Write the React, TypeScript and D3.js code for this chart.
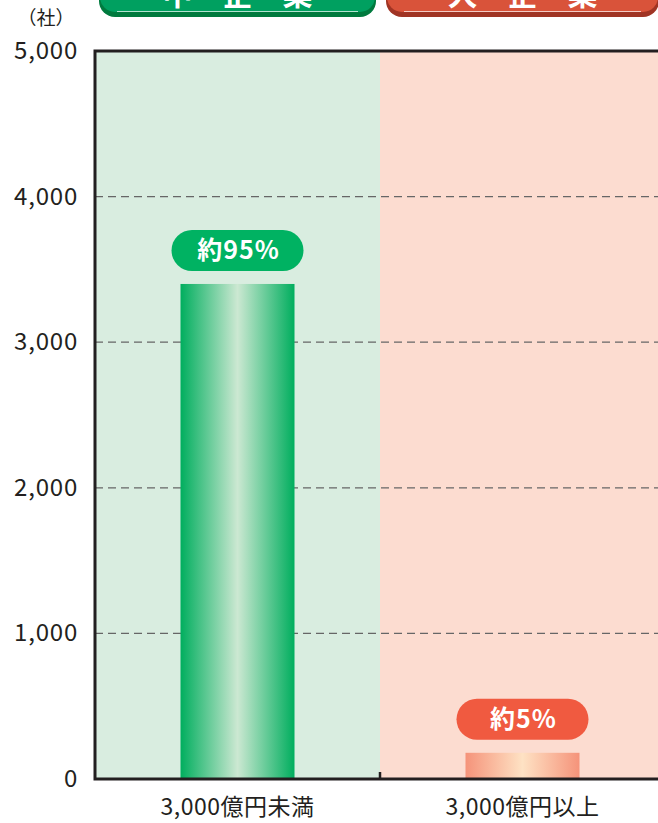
import React from "react";
import * as d3 from "d3";

const categories = ["3,000億円未満", "3,000億円以上"];
const groupNames = ["中　企　業", "大　企　業"];
const counts = [3400, 180];
const shareLabels = ["約95%", "約5%"];
const yTicks = [0, 1000, 2000, 3000, 4000, 5000];

const W = 658;
const H = 823;
const margin = { top: 51, left: 95, bottom: 44, right: -7 };

const bgColors = ["#d9ede0", "#fcdcd0"];
const pillColors = ["#00b262", "#f05a40"];
const headColors = ["#00a060", "#d9533a"];
const headDark = ["#007a3e", "#a03424"];
const font = "'Noto Sans CJK JP', 'Noto Sans', sans-serif";

const App: React.FC = () => {
  const x = d3
    .scaleBand<string>()
    .domain(categories)
    .range([margin.left, W - margin.right])
    .paddingInner(0)
    .paddingOuter(0);

  const y = d3
    .scaleLinear()
    .domain([0, 5000])
    .range([H - margin.bottom, margin.top]);

  const bw = x.bandwidth();
  const barW = bw * 0.4;
  const y0 = y(0);

  return (
    <svg width={W} height={H} style={{ position: "absolute", left: 0, top: 0 }}>
      <defs>
        <linearGradient id="gGreen" x1="0" x2="1" y1="0" y2="0">
          <stop offset="0" stopColor="#00ae5e" />
          <stop offset="0.5" stopColor="#cce8d2" />
          <stop offset="1" stopColor="#00ae5e" />
        </linearGradient>
        <linearGradient id="gOrange" x1="0" x2="1" y1="0" y2="0">
          <stop offset="0" stopColor="#f5937a" />
          <stop offset="0.5" stopColor="#fee2c4" />
          <stop offset="1" stopColor="#f5937a" />
        </linearGradient>
      </defs>

      {/* background panels */}
      {categories.map((c, i) => (
        <rect key={c} x={x(c)} y={y(5000)} width={bw} height={y0 - y(5000)} fill={bgColors[i]} />
      ))}

      {/* header tabs, cut off at top */}
      {categories.map((c, i) => {
        const bx = (x(c) ?? 0) + 4 + i * 2;
        const w = bw - 8 - i * 4;
        return (
          <g key={"h" + c}>
            <rect x={bx} y={-40} width={w} height={57} rx={16} fill={headDark[i]} />
            <rect x={bx + 1} y={-40} width={w - 2} height={52} rx={15} fill={headColors[i]} />
            <line x1={bx + 18} x2={bx + w - 18} y1={11.5} y2={11.5} stroke="#ffffff" strokeOpacity={0.7} strokeWidth={1} />
            <text
              x={bx + w / 2}
              y={5}
              textAnchor="middle"
              fontFamily={font}
              fontWeight="bold"
              fontSize={30}
              fill="#ffffff"
            >
              {groupNames[i]}
            </text>
          </g>
        );
      })}

      {/* grid lines */}
      {yTicks
        .filter((t) => t > 0 && t < 5000)
        .map((t) => (
          <line
            key={t}
            x1={margin.left}
            x2={W}
            y1={y(t)}
            y2={y(t)}
            stroke="#666"
            strokeWidth={1.2}
            strokeDasharray="8 5"
          />
        ))}

      {/* bars */}
      {categories.map((c, i) => {
        const cx = (x(c) ?? 0) + bw / 2;
        return (
          <rect
            key={"b" + c}
            x={cx - barW / 2}
            y={y(counts[i])}
            width={barW}
            height={y0 - y(counts[i])}
            fill={i === 0 ? "url(#gGreen)" : "url(#gOrange)"}
          />
        );
      })}

      {/* share pills */}
      {categories.map((c, i) => {
        const cx = (x(c) ?? 0) + bw / 2;
        const py = y(counts[i]) - 54;
        return (
          <g key={"p" + c}>
            <rect x={cx - 66} y={py} width={132} height={41} rx={20.5} fill={pillColors[i]} />
            <text
              x={cx + 1}
              y={py + 29}
              textAnchor="middle"
              fontFamily={font}
              fontWeight="bold"
              fontSize={25}
              letterSpacing={1}
              fill="#ffffff"
            >
              {shareLabels[i]}
            </text>
          </g>
        );
      })}

      {/* axes frame */}
      <path
        d={`M${W},${y(5000)} H${margin.left} V${y0} H${W}`}
        fill="none"
        stroke="#231f20"
        strokeWidth={3}
      />
      <line x1={x(categories[1])} x2={x(categories[1])} y1={y0} y2={y0 - 7} stroke="#231f20" strokeWidth={2.5} />

      {/* y tick labels */}
      {yTicks.map((t) => (
        <text
          key={"t" + t}
          x={78}
          y={y(t) + 8}
          textAnchor="end"
          fontFamily={font}
          fontSize={24}
          letterSpacing={0.8}
          fill="#231f20"
        >
          {d3.format(",")(t)}
        </text>
      ))}
      <text x={46} y={25} textAnchor="middle" fontFamily={font} fontSize={19} fill="#231f20">
        （社）
      </text>

      {/* category labels */}
      {categories.map((c) => (
        <text
          key={"c" + c}
          x={(x(c) ?? 0) + bw / 2}
          y={815}
          textAnchor="middle"
          fontFamily={font}
          fontSize={23}
          letterSpacing={0.5}
          fill="#231f20"
        >
          {c}
        </text>
      ))}
    </svg>
  );
};

export default App;
